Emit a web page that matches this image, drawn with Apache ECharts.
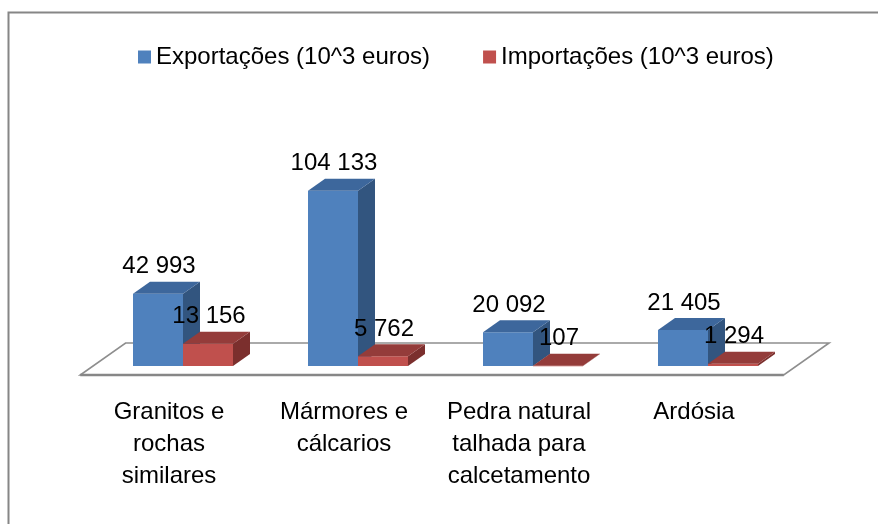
<!DOCTYPE html>
<html>
<head>
<meta charset="utf-8">
<script src="https://cdn.jsdelivr.net/npm/echarts@6/dist/echarts.min.js"></script>
<style>
  html, body { margin: 0; padding: 0; background: #ffffff; }
  #chart { width: 878px; height: 524px; }
</style>
</head>
<body>
<div id="chart"></div>
<script>
// ---- data ----
const categories = ['Granitos e\nrochas\nsimilares', 'Mármores e\ncálcarios', 'Pedra natural\ntalhada para\ncalcetamento', 'Ardósia'];
const exportacoes = [42993, 104133, 20092, 21405];
const importacoes = [13156, 5762, 107, 1294];
const seriesNames = ['Exportações (10^3 euros)', 'Importações (10^3 euros)'];

// ---- styling ----
const FONT = 'Liberation Sans, Arial, sans-serif';
const DX = 17, DY = 12;           // 3D depth projection
const FLOOR_FRONT = 9, FLOOR_BACK = 23;
const palettes = [
  { front: '#4F81BD', top: '#3D679C', side: '#32557F' },
  { front: '#C0504D', top: '#943C3A', side: '#7B2F2D' }
];

function fmt(v) { return String(v).replace(/\B(?=(\d{3})+(?!\d))/g, ' '); }

function barRenderer(s) {
  const pal = palettes[s];
  return function (params, api) {
    const i = api.value(0), v = api.value(1);
    const top = api.coord([i, v]);
    const base = api.coord([i, 0]);
    const band = api.size([1, 0])[0];
    const w = band * 50 / 175;
    const x0 = top[0] - w + s * w;
    const x1 = x0 + w;
    const yT = top[1], yB = base[1];
    return {
      type: 'group',
      children: [
        { type: 'rect', shape: { x: x0, y: yT, width: w, height: Math.max(yB - yT, 0.5) }, style: { fill: pal.front } },
        { type: 'polygon', shape: { points: [[x1, yT], [x1 + DX, yT - DY], [x1 + DX, yB - DY], [x1, yB]] }, style: { fill: pal.side } },
        { type: 'polygon', shape: { points: [[x0, yT], [x1, yT], [x1 + DX, yT - DY], [x0 + DX, yT - DY]] }, style: { fill: pal.top } },
        { type: 'text', z2: 100, style: { x: x0 + w / 2 + 1, y: yT - 27, text: fmt(v), fill: '#000', font: '24px ' + FONT, align: 'center', verticalAlign: 'middle' } }
      ]
    };
  };
}

function floorRenderer(params, api) {
  const cs = params.coordSys;
  const base = api.coord([0, 0])[1];
  const k = DX / DY;
  const L = cs.x - 2.5, R = cs.x + cs.width + 1;
  const yF = base + FLOOR_FRONT, yK = base - FLOOR_BACK;
  const fl = [L - FLOOR_FRONT * k, yF], fr = [R - FLOOR_FRONT * k, yF];
  const br = [R + FLOOR_BACK * k, yK], bl = [L + FLOOR_BACK * k, yK];
  return {
    type: 'group',
    children: [
      { type: 'polygon', shape: { points: [fl, fr, br, bl] }, style: { fill: '#ffffff', stroke: '#8E8E8E', lineWidth: 1.6 } },
      { type: 'line', shape: { x1: fl[0], y1: fl[1], x2: fr[0], y2: fr[1] }, style: { stroke: '#878787', lineWidth: 2.6 } }
    ]
  };
}

const chart = echarts.init(document.getElementById('chart'), null, { renderer: 'canvas' });
chart.setOption({
  backgroundColor: '#ffffff',
  animation: false,
  graphic: [{
    type: 'rect', silent: true, z: -10,
    shape: { x: 8.5, y: 12.5, width: 900, height: 600 },
    style: { fill: 'none', stroke: '#868686', lineWidth: 2 }
  }],
  legend: {
    data: seriesNames,
    left: 133, top: 40,
    icon: 'rect', itemWidth: 13, itemHeight: 13, itemGap: 53,
    textStyle: { fontFamily: FONT, fontSize: 24, color: '#000' }
  },
  grid: { left: 95.5, right: 82.5, top: 164, bottom: 158 },
  xAxis: {
    type: 'category',
    data: categories,
    axisLine: { show: false }, axisTick: { show: false }, splitLine: { show: false },
    axisLabel: {
      interval: 0, margin: 30, padding: [0, 28, 0, 0],
      fontFamily: FONT, fontSize: 24, lineHeight: 32, color: '#000'
    }
  },
  yAxis: { type: 'value', min: 0, max: 120000, show: false, splitLine: { show: false } },
  series: [
    { type: 'custom', silent: true, z: 1, renderItem: floorRenderer, data: [[0, 0]], encode: { x: 0, y: 1 } },
    { type: 'custom', name: seriesNames[0], z: 2, itemStyle: { color: palettes[0].front }, renderItem: barRenderer(0),
      data: exportacoes.map((v, i) => [i, v]), encode: { x: 0, y: 1 } },
    { type: 'custom', name: seriesNames[1], z: 3, itemStyle: { color: palettes[1].front }, renderItem: barRenderer(1),
      data: importacoes.map((v, i) => [i, v]), encode: { x: 0, y: 1 } }
  ]
});
</script>
</body>
</html>
